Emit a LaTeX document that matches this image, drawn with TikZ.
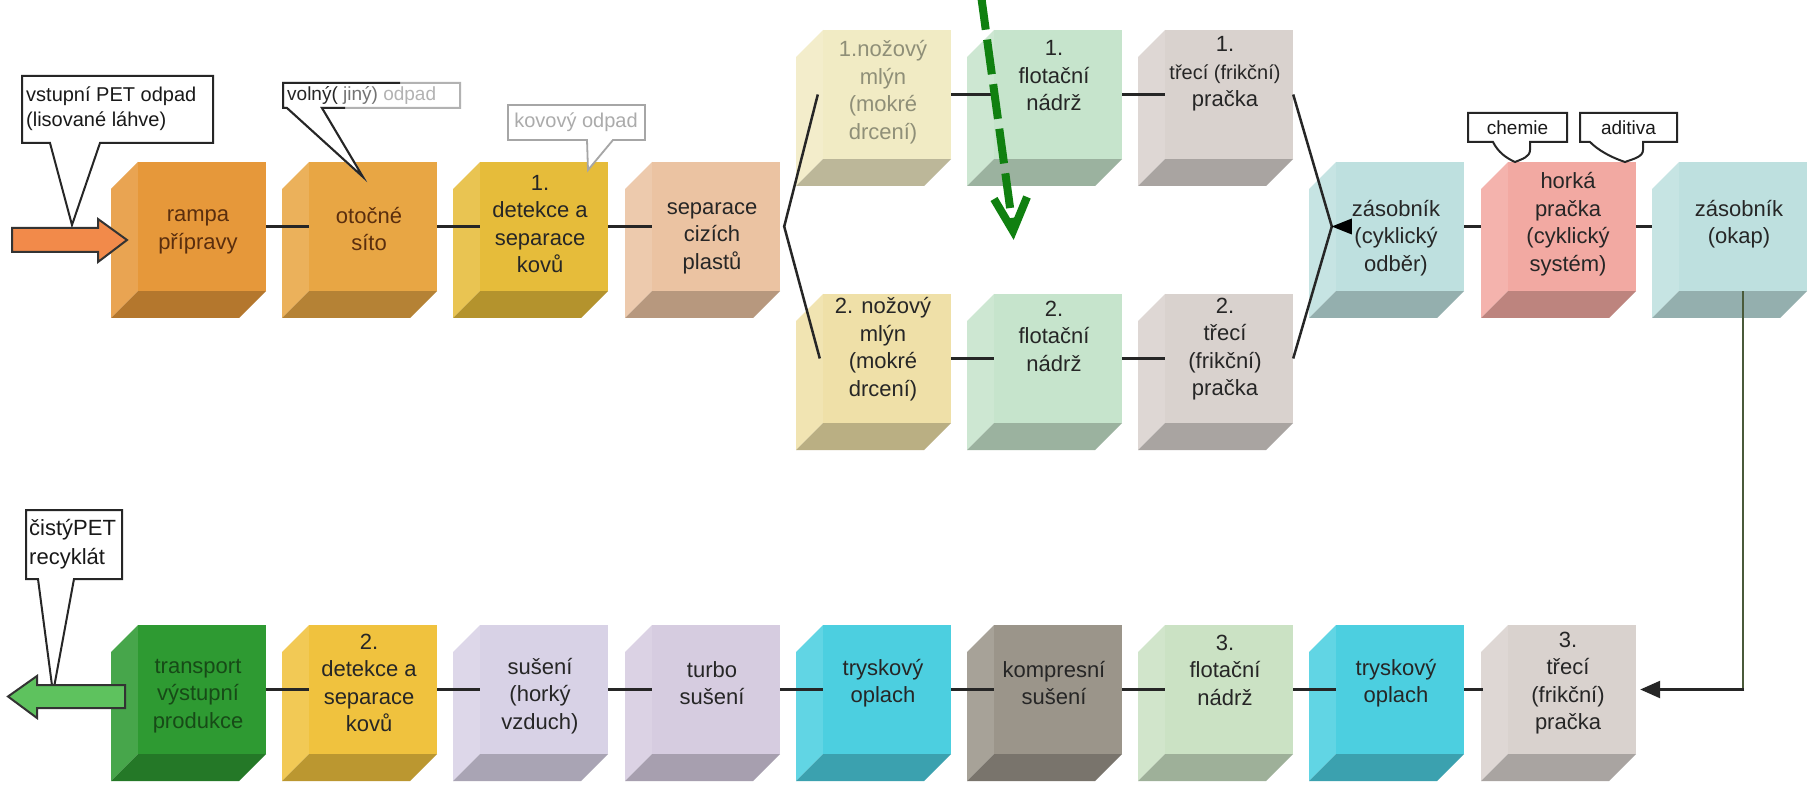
\documentclass[tikz,border=0pt]{standalone}
\usepackage{fontspec}
\setmainfont{Liberation Sans}
\usetikzlibrary{arrows.meta}
\definecolor{cRampa}{HTML}{E6983A}
\definecolor{cSito}{HTML}{E8A644}
\definecolor{cDet}{HTML}{E6BC3A}
\definecolor{cSep}{HTML}{EBC3A2}
\definecolor{cMlynA}{HTML}{F1EBC4}
\definecolor{cMlynB}{HTML}{EFE0A8}
\definecolor{cFlot}{HTML}{C6E4CC}
\definecolor{cTrec}{HTML}{D9D2CE}
\definecolor{cZas}{HTML}{BEE0DF}
\definecolor{cHork}{HTML}{F2A9A2}
\definecolor{cTrans}{HTML}{2E9A32}
\definecolor{cDetB}{HTML}{F0C23E}
\definecolor{cSus}{HTML}{D8D2E6}
\definecolor{cTurbo}{HTML}{D6CCE0}
\definecolor{cTrysk}{HTML}{4CCFE0}
\definecolor{cKomp}{HTML}{9B958A}
\definecolor{cFlotC}{HTML}{CBE2C4}
\definecolor{tBrown}{HTML}{5A2E0E}
\definecolor{tDark}{HTML}{262626}
\definecolor{tFaded}{HTML}{8F8F78}
\definecolor{tGreen}{HTML}{174A17}
\definecolor{cOrange}{HTML}{F28A4A}
\definecolor{cLightGreen}{HTML}{5EC25E}
\definecolor{cDash}{HTML}{108010}
\definecolor{cLoop}{HTML}{4A5A3A}
\tikzset{
  face/.style={minimum width=128pt, minimum height=129pt, inner sep=0pt, draw=none},
  btext/.style={align=center, inner sep=0pt, font=\fontsize{22}{27.5}\selectfont},
  conn/.style={line width=2.5pt, draw=black!85},
  callout/.style={fill=white, draw=black!85, line width=2pt, line join=miter},
  calltext/.style={inner sep=0pt, text=black!90},
}
% name, x0, y0, fill, text colour, text y, text
\newcommand\pcube[7]{%
  \fill[#4!88!white] (#2,#3+27) -- (#2+27,#3) -- (#2+27,#3+129) -- (#2,#3+156) -- cycle;
  \fill[#4!78!black] (#2,#3+156) -- (#2+27,#3+129) -- (#2+155,#3+129) -- (#2+128,#3+156) -- cycle;
  \node[face, fill=#4] (#1) at (#2+91,#3+64.5) {};
  \node[btext, text=#5] (#1-t) at (#2+87,#6) {#7};
}
\begin{document}
\begin{tikzpicture}[x=1pt,y=-1pt]
\fill[white] (0,0) rectangle (1813,786);
\useasboundingbox (0,0) rectangle (1813,786);

% ---------- callouts drawn under the arrows ----------
\draw[callout] (22,76) -- (213,76) -- (213,143) -- (100,143) -- (72,225) -- (50,143) -- (22,143) -- cycle;
\node[calltext, anchor=west, align=left, font=\fontsize{20}{25}\selectfont] (vst) at (26,109) {vstupní PET odpad\\(lisované láhve)};

\draw[callout] (26,510) -- (122,510) -- (122,579) -- (74,579) -- (53,693) -- (38,579) -- (26,579) -- cycle;
\node[calltext, anchor=west, align=left, font=\fontsize{22}{29}\selectfont] (cist) at (29,544.5) {čistýPET\\recyklát};

% ---------- top row ----------
\pcube{rampa}{111}{162}{cRampa}{tBrown}{232}{rampa\\přípravy}
\pcube{sito}{282}{162}{cSito}{tBrown}{229}{otočné\\síto}
\pcube{det1}{453}{162}{cDet}{tDark}{224}{1.\\detekce a\\separace\\kovů}
\pcube{sep}{625}{162}{cSep}{tDark}{238}{separace\\cizích\\plastů}
\pcube{mlyn1}{796}{30}{cMlynA}{tFaded}{92}{1.nožový\\mlýn\\(mokré\\drcení)}
\pcube{flot1}{967}{30}{cFlot}{tDark}{76}{1.\\flotační\\nádrž}
\pcube{trec1}{1138}{30}{cTrec}{tDark}{74}{1.\\{\fontsize{20}{27.5}\selectfont třecí (frikční)}\\pračka}
\pcube{mlyn2}{796}{294}{cMlynB}{tDark}{349}{2. nožový\\mlýn\\(mokré\\drcení)}
\pcube{flot2}{967}{294}{cFlot}{tDark}{336}{2.\\flotační\\nádrž}
\pcube{trec2}{1138}{294}{cTrec}{tDark}{349}{2.\\třecí\\(frikční)\\pračka}
\pcube{zas1}{1309}{162}{cZas}{tDark}{238}{zásobník\\(cyklický\\odběr)}
\pcube{horka}{1481}{162}{cHork}{tDark}{224}{horká\\pračka\\(cyklický\\systém)}
\pcube{okap}{1652}{162}{cZas}{tDark}{224}{zásobník\\(okap)}

% ---------- bottom row ----------
\pcube{trans}{111}{625}{cTrans}{tGreen}{696}{transport\\výstupní\\produkce}
\pcube{det2}{282}{625}{cDetB}{tDark}{683}{2.\\detekce a\\separace\\kovů}
\pcube{sus}{453}{625}{cSus}{tDark}{696}{sušení\\(horký\\vzduch)}
\pcube{turbo}{625}{625}{cTurbo}{tDark}{683}{turbo\\sušení}
\pcube{trysk1}{796}{625}{cTrysk}{tDark}{683}{tryskový\\oplach}
\pcube{komp}{967}{625}{cKomp}{tDark}{683}{kompresní\\sušení}
\pcube{flot3}{1138}{625}{cFlotC}{tDark}{670}{3.\\flotační\\nádrž}
\pcube{trysk2}{1309}{625}{cTrysk}{tDark}{683}{tryskový\\oplach}
\pcube{trec3}{1481}{625}{cTrec}{tDark}{683}{3.\\třecí\\(frikční)\\pračka}

% ---------- connectors ----------
\draw[conn] (rampa.east) -- (sito.west);
\draw[conn] (sito.east) -- (det1.west);
\draw[conn] (det1.east) -- (sep.west);
\draw[conn] ([xshift=-5pt]mlyn1.west) -- ([xshift=4pt]sep.east) -- ([xshift=-3pt]mlyn2.west);
\draw[conn] (mlyn1.east) -- (flot1.west);
\draw[conn] (flot1.east) -- (trec1.west);
\draw[conn] (mlyn2.east) -- (flot2.west);
\draw[conn] (flot2.east) -- (trec2.west);
\coordinate (jR) at ([xshift=-4pt]zas1.west);
\draw[conn] (trec1.east) -- (jR) -- (trec2.east);
\fill[black] (jR) -- ++(20,-8) -- ++(0,16) -- cycle;
\draw[conn] (zas1.east) -- ([xshift=-27pt]horka.west);
\draw[conn] (horka.east) -- ([xshift=-27pt]okap.west);

\draw[conn] (trans.east) -- (det2.west);
\draw[conn] (det2.east) -- (sus.west);
\draw[conn] (sus.east) -- (turbo.west);
\draw[conn] (turbo.east) -- (trysk1.west);
\draw[conn] (trysk1.east) -- (komp.west);
\draw[conn] (komp.east) -- (flot3.west);
\draw[conn] (flot3.east) -- (trysk2.west);
\draw[conn] (trysk2.east) -- ([xshift=-25pt]trec3.west);

\coordinate (lc) at (okap.south |- trec3.east);
\draw[line width=2.5pt, draw=cLoop] (okap.south) -- (lc);
\draw[conn, -{Triangle[length=20pt,width=17pt]}] ([xshift=1.25pt]lc) -- ([xshift=4pt]trec3.east);

% ---------- input / output arrows ----------
\draw[fill=cOrange, draw=black!80, line width=2pt, line join=miter]
  (12,228) -- (98,228) -- (98,219) -- (127,240) -- (98,262) -- (98,252) -- (12,252) -- cycle;
\draw[fill=cLightGreen, draw=black!80, line width=2pt, line join=miter]
  (125,685) -- (37,685) -- (37,676) -- (8,696.5) -- (37,718) -- (37,708) -- (125,708) -- cycle;

% ---------- callouts over boxes ----------
\draw[callout, draw=black!30] (283,83) -- (460,83) -- (460,108) -- (322,108) -- (363,177) -- (287,108) -- (283,108) -- cycle;
\draw[black!85, line width=2pt, line join=miter] (400,83) -- (283,83) -- (283,108) -- (287,108) -- (363,177) -- (322,108) -- (345,108);
\node[calltext, anchor=west, font=\fontsize{19}{22}\selectfont] (voln) at (287,95.5) {{\color{black!85}volný(} {\color{black!55}jiný)} {\color{black!30}odpad}};

\draw[callout, draw=black!35, line width=1.8pt] (508,105) -- (645,105) -- (645,140) -- (613,140) -- (588,170) -- (587,140) -- (508,140) -- cycle;
\node[calltext, text=black!33, font=\fontsize{20}{24}\selectfont] (kov) at (576,122) {kovový odpad};

\draw[callout] (1468,113) -- (1567,113) -- (1567,142) -- (1530,142) -- (1530,150)
  .. controls (1530,157) and (1522,159) .. (1515,162)
  .. controls (1506,158) and (1498,152) .. (1493,142) -- (1468,142) -- cycle;
\node[calltext, font=\fontsize{19}{22}\selectfont] (chem) at (1517.5,127.5) {chemie};
\draw[callout] (1580,113) -- (1677,113) -- (1677,142) -- (1643,142) -- (1643,150)
  .. controls (1643,157) and (1633,159) .. (1625,162)
  .. controls (1610,157) and (1598,150) .. (1590,142) -- (1580,142) -- cycle;
\node[calltext, font=\fontsize{19}{22}\selectfont] (adit) at (1628.5,127.5) {aditiva};

% ---------- green dashed arrow ----------
\coordinate (gS) at (981,-5);
\coordinate (gE) at (1012,222);
\coordinate (gT) at (1013,231);
\draw[cDash, line width=8pt, dash pattern=on 35pt off 10pt] (gS) -- (gE);
\draw[cDash, line width=8pt, line join=miter] (994,199) -- (gT) -- (1027,197);
\end{tikzpicture}
\end{document}
